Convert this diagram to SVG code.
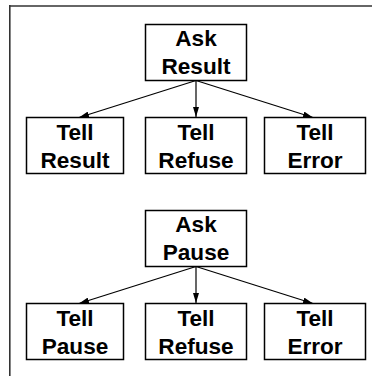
<svg xmlns="http://www.w3.org/2000/svg" width="372" height="376" viewBox="0 0 372 376">
  <defs>
    <marker id="arrow" viewBox="0 0 10 6" refX="10" refY="3" markerWidth="10" markerHeight="6" markerUnits="userSpaceOnUse" orient="auto">
      <path d="M0,0 L10,3 L0,6 z" fill="#000"/>
    </marker>
  </defs>
  <style>
    .box { fill: #fff; stroke: #000; stroke-width: 1.5; }
    .lbl { font-family: "Liberation Sans", Arial, sans-serif; font-weight: bold; font-size: 22.6px; text-anchor: middle; fill: #000; }
    .edge { stroke: #000; stroke-width: 1.2; fill: none; marker-end: url(#arrow); }
  </style>
  <rect width="372" height="376" fill="#fff"/>
  <!-- frame -->
  <g id="frame">
    <line x1="9" y1="6" x2="372" y2="6" stroke="#666" stroke-width="2"/>
    <line x1="9.8" y1="5" x2="9.8" y2="376" stroke="#333" stroke-width="1.6"/>
  </g>

  <!-- upper tree -->
  <g id="ask-result">
    <rect class="box" x="145.5" y="24.5" width="101" height="56"/>
    <text class="lbl" x="196" y="46">Ask</text>
    <text class="lbl" x="196" y="74">Result</text>
  </g>
  <g id="tell-result-1">
    <rect class="box" x="26.5" y="117.5" width="97" height="56"/>
    <text class="lbl" x="75" y="140">Tell</text>
    <text class="lbl" x="75" y="168">Result</text>
  </g>
  <g id="tell-refuse-1">
    <rect class="box" x="145.5" y="117.5" width="101" height="56"/>
    <text class="lbl" x="196" y="140">Tell</text>
    <text class="lbl" x="196" y="168">Refuse</text>
  </g>
  <g id="tell-error-1">
    <rect class="box" x="264.5" y="117.5" width="101" height="56"/>
    <text class="lbl" x="315" y="140">Tell</text>
    <text class="lbl" x="315" y="168">Error</text>
  </g>

  <!-- lower tree -->
  <g id="ask-pause">
    <rect class="box" x="145.5" y="210.5" width="101" height="56"/>
    <text class="lbl" x="196" y="232">Ask</text>
    <text class="lbl" x="196" y="260">Pause</text>
  </g>
  <g id="tell-pause-2">
    <rect class="box" x="26.5" y="303.5" width="97" height="56"/>
    <text class="lbl" x="75" y="326">Tell</text>
    <text class="lbl" x="75" y="354">Pause</text>
  </g>
  <g id="tell-refuse-2">
    <rect class="box" x="145.5" y="303.5" width="101" height="56"/>
    <text class="lbl" x="196" y="326">Tell</text>
    <text class="lbl" x="196" y="354">Refuse</text>
  </g>
  <g id="tell-error-2">
    <rect class="box" x="264.5" y="303.5" width="101" height="56"/>
    <text class="lbl" x="315" y="326">Tell</text>
    <text class="lbl" x="315" y="354">Error</text>
  </g>

  <g id="connectors">
    <line class="edge" x1="196" y1="80.5" x2="79" y2="117.5"/>
    <line class="edge" x1="196" y1="80.5" x2="196" y2="117"/>
    <line class="edge" x1="196" y1="80.5" x2="313" y2="117.5"/>
    <line class="edge" x1="196" y1="266.5" x2="79" y2="303.5"/>
    <line class="edge" x1="196" y1="266.5" x2="196" y2="303"/>
    <line class="edge" x1="196" y1="266.5" x2="313" y2="303.5"/>
  </g>
</svg>
